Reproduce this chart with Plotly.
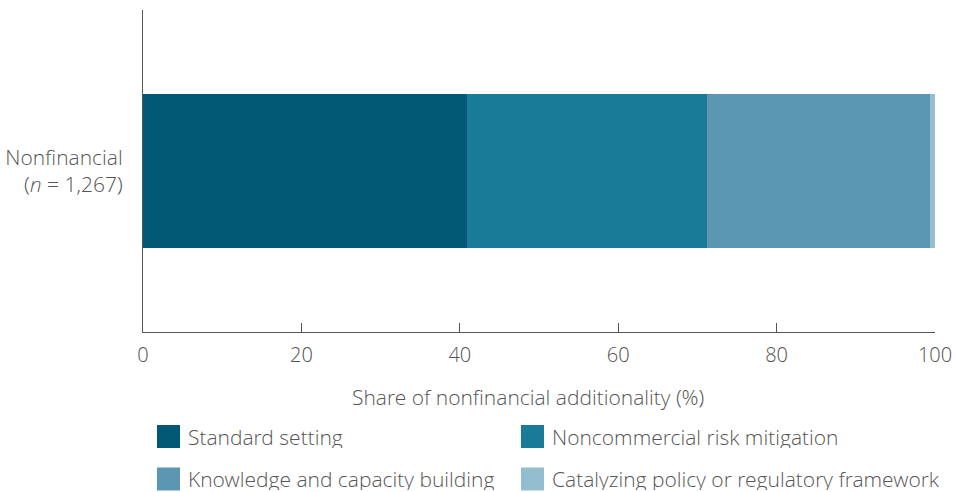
import plotly.graph_objects as go

categories = ["Nonfinancial<br>(<i>n</i> = 1,267)"]
series_names = ["Standard setting", "Noncommercial risk mitigation",
                "Knowledge and capacity building", "Catalyzing policy or regulatory framework"]
series_values = [[40.9], [30.3], [28.2], [0.6]]
colors = ["#005874", "#1a7b99", "#5b97b2", "#95bdd0"]
tick_vals = [0, 20, 40, 60, 80, 100]

FONT = "Open Sans Light, Open Sans"
FS = 21
TFS = 20
TXT = "#555555"
W, H = 956, 492
L, R, T, B = 143, 21, 10, 160

fig = go.Figure()
for name, vals, c in zip(series_names, series_values, colors):
    fig.add_trace(go.Bar(y=categories, x=vals, name=name, orientation="h",
                         marker=dict(color=c, line=dict(width=0)), width=0.48,
                         showlegend=False))

fig.update_layout(
    width=W, height=H, barmode="stack",
    margin=dict(l=L, r=R, t=T, b=B, autoexpand=False),
    plot_bgcolor="white", paper_bgcolor="white",
    font=dict(family=FONT, size=FS, color=TXT, weight=300),
    xaxis=dict(range=[0, 100], tickvals=tick_vals, showgrid=False, zeroline=False,
               automargin=False,
               showline=True, linecolor="#555555", linewidth=1.3,
               ticks="inside", ticklen=9, tickcolor="#555555", tickwidth=1.3,
               tickfont=dict(size=TFS, color=TXT, weight=300), ticklabelstandoff=5),
    yaxis=dict(range=[-0.5, 0.5], showgrid=False, zeroline=False,
               automargin=False,
               showline=True, linecolor="#555555", linewidth=1.3,
               ticks="", tickfont=dict(size=FS, color=TXT, weight=300), ticklabelstandoff=15),
)

pw = W - L - R
ph = H - T - B
def px_to_paper_x(px):
    return (px - L) / pw
def py_to_paper_y(py):
    return (H - B - py) / ph

fig.add_annotation(text="Share of nonfinancial additionality (%)", xref="paper", yref="paper",
                   x=px_to_paper_x(528), y=py_to_paper_y(397), showarrow=False,
                   xanchor="center", yanchor="middle", font=dict(size=FS, color=TXT, weight=300))

# manual legend
legend_pos = [(157, 436.5), (521, 436.5), (157, 479), (521, 479)]
for (lx, ly), name, c in zip(legend_pos, series_names, colors):
    fig.add_shape(type="rect", xref="paper", yref="paper",
                  x0=px_to_paper_x(lx), x1=px_to_paper_x(lx + 23),
                  y0=py_to_paper_y(ly + 11.5), y1=py_to_paper_y(ly - 11.5),
                  fillcolor=c, line=dict(width=0))
    fig.add_annotation(text=name, xref="paper", yref="paper",
                       x=px_to_paper_x(lx + 30), y=py_to_paper_y(ly), showarrow=False,
                       xanchor="left", yanchor="middle", height=22, borderpad=0,
                       font=dict(size=FS, color=TXT, weight=300))

fig.write_html("out.html", config={"displayModeBar": False},
               post_script="document.body.style.margin='0';document.body.style.overflow='hidden';")
